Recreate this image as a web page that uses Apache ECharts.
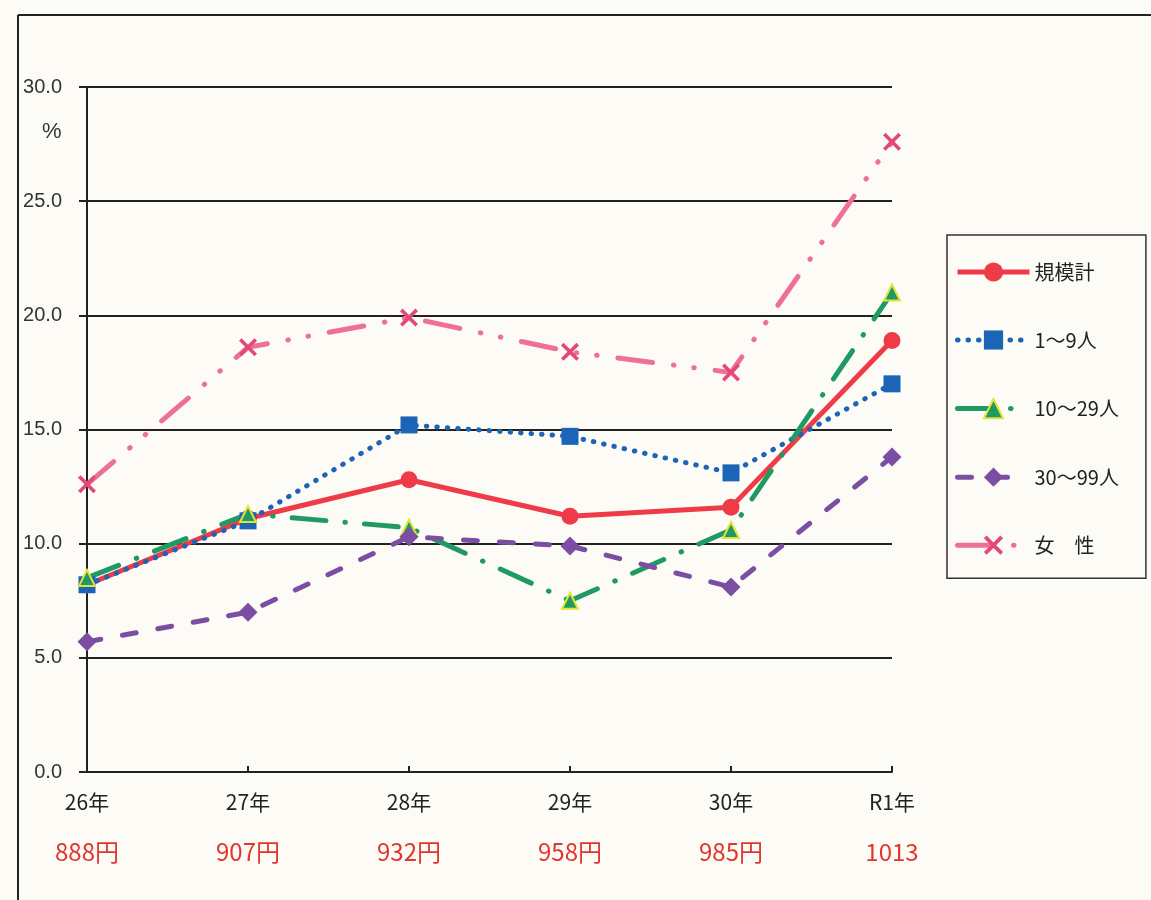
<!DOCTYPE html>
<html>
<head>
<meta charset="utf-8">
<script src="https://cdn.jsdelivr.net/npm/echarts@6/dist/echarts.min.js"></script>
<style>
  html, body { margin: 0; padding: 0; background: #fcfbf5; }
  #chart { width: 1151px; height: 900px; }
</style>
</head>
<body>
<div id="chart"></div>
<script>
// Categories and the wage notes printed under them
const years = ["26年", "27年", "28年", "29年", "30年", "R1年"];
const wages = ["888円", "907円", "932円", "958円", "985円", "1013"];

// Series values (%)
const totalValues = [8.2, 11.1, 12.8, 11.2, 11.6, 18.9];
const size1to9 = [8.2, 11.0, 15.2, 14.7, 13.1, 17.0];
const size10to29 = [8.5, 11.3, 10.7, 7.5, 10.6, 21.0];
const size30to99 = [5.7, 7.0, 10.3, 9.9, 8.1, 13.8];
const femaleValues = [12.6, 18.6, 19.9, 18.4, 17.5, 27.6];

const seriesNames = ["規模計", "1～9人", "10～29人", "30～99人", "女　性"];

const crossSymbol =
  "path://M0,1.4L1.4,0L5,3.6L8.6,0L10,1.4L6.4,5L10,8.6L8.6,10L5,6.4L1.4,10L0,8.6L3.6,5Z";

const chart = echarts.init(document.getElementById("chart"));

const labelFont = "'Liberation Sans', 'Noto Sans CJK JP', sans-serif";

const option = {
  backgroundColor: "#fcfbf5",
  animation: false,
  textStyle: { fontFamily: labelFont },
  grid: {
    left: 87,
    right: 259,
    top: 87,
    bottom: 128,
  },
  legend: {
    orient: "vertical",
    left: 947,
    top: 235,
    padding: [27, 27, 23, 8],
    itemWidth: 72,
    itemHeight: 24,
    itemGap: 48,
    borderColor: "#333",
    borderWidth: 1.5,
    backgroundColor: "#fcfbf5",
    lineStyle: { width: 5 },
    textStyle: {
      fontSize: 20,
      color: "#222",
      fontFamily: "'Noto Sans CJK JP', sans-serif",
    },
    data: seriesNames,
  },
  graphic: [
    {
      type: "line",
      shape: { x1: 18, y1: 15, x2: 1151, y2: 15 },
      style: { stroke: "#222", lineWidth: 2 },
    },
    {
      type: "line",
      shape: { x1: 18, y1: 15, x2: 18, y2: 900 },
      style: { stroke: "#222", lineWidth: 2 },
    },
    {
      type: "text",
      left: 42,
      top: 121,
      style: { text: "%", fontSize: 22, fill: "#333", fontFamily: labelFont },
    },
  ],
  xAxis: [
    {
      type: "category",
      data: years,
      boundaryGap: false,
      axisLine: { lineStyle: { color: "#222", width: 2 } },
      axisTick: { inside: true, length: 6, lineStyle: { color: "#222", width: 2 } },
      axisLabel: {
        margin: 20,
        fontSize: 21,
        color: "#222",
        fontFamily: "'Noto Sans CJK JP', sans-serif",
      },
    },
    {
      type: "category",
      data: wages,
      position: "bottom",
      boundaryGap: false,
      axisLine: { show: false },
      axisTick: { show: false },
      axisLabel: {
        margin: 68,
        fontSize: 24,
        color: "#e2352f",
        fontFamily: "'Noto Sans CJK JP', sans-serif",
      },
    },
  ],
  yAxis: {
    type: "value",
    min: 0,
    max: 30,
    interval: 5,
    axisLine: { show: true, lineStyle: { color: "#222", width: 2 } },
    axisTick: { show: true, length: 8, lineStyle: { color: "#222", width: 2 } },
    axisLabel: {
      margin: 25,
      fontSize: 20,
      color: "#333",
      formatter: function (value) {
        return value.toFixed(1);
      },
    },
    splitLine: { lineStyle: { color: "#222", width: 2 } },
  },
  series: [
    {
      name: seriesNames[0],
      type: "line",
      data: totalValues,
      symbol: "circle",
      symbolSize: 17,
      itemStyle: { color: "#ef3b48" },
      lineStyle: { color: "#ef3b48", width: 5 },
    },
    {
      name: seriesNames[1],
      type: "line",
      data: size1to9,
      symbol: "rect",
      symbolSize: 17,
      itemStyle: { color: "#1b64b8" },
      lineStyle: { color: "#1b64b8", width: 5, type: [0.5, 10], cap: "round" },
    },
    {
      name: seriesNames[2],
      type: "line",
      data: size10to29,
      symbol: "triangle",
      symbolSize: 16,
      itemStyle: { color: "#1f9a62", borderColor: "#e5e23a", borderWidth: 2 },
      lineStyle: { color: "#1f9a62", width: 5, type: [34, 19, 0.5, 19], cap: "round" },
    },
    {
      name: seriesNames[3],
      type: "line",
      data: size30to99,
      symbol: "diamond",
      symbolSize: 19,
      itemStyle: { color: "#7b4ea3" },
      lineStyle: { color: "#7b4ea3", width: 5, type: [14, 22], cap: "round" },
    },
    {
      name: seriesNames[4],
      type: "line",
      data: femaleValues,
      symbol: crossSymbol,
      symbolSize: 18,
      itemStyle: { color: "#e4477a" },
      lineStyle: { color: "#ee6f98", width: 5, type: [35, 21, 0.5, 20, 0.5, 21], cap: "round" },
    },
  ],
};

chart.setOption(option);
</script>
</body>
</html>
